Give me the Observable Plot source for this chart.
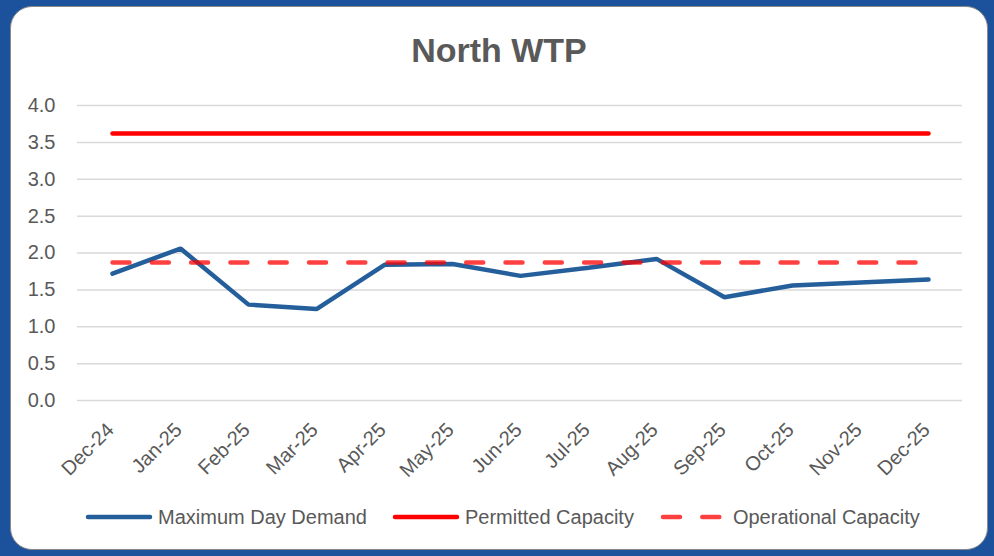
<!DOCTYPE html>
<html>
<head>
<meta charset="utf-8">
<script src="https://cdn.jsdelivr.net/npm/d3@7"></script>
<script src="https://cdn.jsdelivr.net/npm/@observablehq/plot@0.6"></script>
<style>
  html, body { margin: 0; padding: 0; }
  body { width: 994px; height: 556px; background: #1B529B; position: relative; overflow: hidden;
         font-family: "Liberation Sans", Arial, sans-serif; color: #595959; }
  #card { position: absolute; left: 10px; top: 6px; width: 976px; height: 542px; background: #fff;
          border: 1.5px solid #8a8a8a; border-radius: 22px; }
  #title { position: absolute; left: 0; width: 998px; top: 31px; text-align: center;
           font-size: 34px; font-weight: bold; color: #595959; line-height: normal; }
  #chart { position: absolute; left: 0; top: 0; }
  #legend { position: absolute; left: 85px; top: 505px; height: 24px; display: flex; align-items: center;
            font-size: 20px; color: #595959; white-space: nowrap; }
  .item { display: flex; align-items: center; margin-right: 25px; }
  .item svg { margin-right: 5px; }
</style>
</head>
<body>
<div id="card"></div>
<div id="title">North WTP</div>
<div id="chart"></div>
<div id="legend"></div>
<script>
const months = ["Dec-24","Jan-25","Feb-25","Mar-25","Apr-25","May-25","Jun-25","Jul-25","Aug-25","Sep-25","Oct-25","Nov-25","Dec-25"];
const maxDayDemand = [1.72, 2.06, 1.30, 1.24, 1.84, 1.85, 1.69, 1.80, 1.92, 1.40, 1.56, 1.60, 1.64];
const permittedCapacity = [3.62, 3.62, 3.62, 3.62, 3.62, 3.62, 3.62, 3.62, 3.62, 3.62, 3.62, 3.62, 3.62];
const operationalCapacity = [1.87, 1.87, 1.87, 1.87, 1.87, 1.87, 1.87, 1.87, 1.87, 1.87, 1.87, 1.87, 1.87];
const yTicks = [0, 0.5, 1.0, 1.5, 2.0, 2.5, 3.0, 3.5, 4.0];
const seriesNames = ["Maximum Day Demand", "Permitted Capacity", "Operational Capacity"];

const colors = { blue: "#245F9B", red: "#FF0000" };

const rows = (vals) => months.map((m, i) => ({ month: m, value: vals[i] }));

const chart = Plot.plot({
  width: 994,
  height: 480,
  marginLeft: 77,
  marginRight: 32,
  marginTop: 105,
  marginBottom: 80,
  style: { fontFamily: "'Liberation Sans', Arial, sans-serif", fontSize: "20px", color: "#595959", background: "transparent" },
  x: { type: "point", domain: months, padding: 0.5 },
  y: { domain: [0, 4] },
  marks: [
    Plot.gridY(yTicks, { stroke: "#d9d9d9", strokeOpacity: 1, strokeWidth: 1.5 }),
    Plot.axisY(yTicks, { tickSize: 0, tickPadding: 22, tickFormat: d => d.toFixed(1), label: null, fontSize: 20 }),
    Plot.axisX({ tickRotate: -45, tickSize: 0, tickPadding: 26, label: null, fontSize: 20, dx: -2 }),
    Plot.lineY(rows(maxDayDemand), { x: "month", y: "value", stroke: colors.blue, strokeWidth: 4.5, strokeLinejoin: "miter", strokeLinecap: "round" }),
    Plot.lineY(rows(permittedCapacity), { x: "month", y: "value", stroke: colors.red, strokeWidth: 4.5, strokeLinecap: "round" }),
    Plot.lineY(rows(operationalCapacity), { x: "month", y: "value", stroke: colors.red, strokeOpacity: 0.75, strokeWidth: 4.5, strokeDasharray: "17,22.3", strokeLinecap: "round" })
  ]
});
document.getElementById("chart").appendChild(chart);

// legend
const legend = document.getElementById("legend");
const swatches = [
  `<svg width="68" height="10"><line x1="3" y1="5" x2="65" y2="5" stroke="${colors.blue}" stroke-width="4.5" stroke-linecap="round"/></svg>`,
  `<svg width="68" height="10"><line x1="3" y1="5" x2="65" y2="5" stroke="${colors.red}" stroke-width="4.5" stroke-linecap="round"/></svg>`,
  `<svg width="68" height="10"><line x1="3" y1="5" x2="65" y2="5" stroke="${colors.red}" stroke-opacity="0.75" stroke-width="4.5" stroke-linecap="round" stroke-dasharray="17,22.3"/></svg>`
];
const gaps = [25, 26, 0];
seriesNames.forEach((name, i) => {
  const d = document.createElement("div");
  d.className = "item";
  d.style.marginRight = gaps[i] + "px";
  d.innerHTML = swatches[i] + `<span>${name}</span>`;
  legend.appendChild(d);
});
</script>
</body>
</html>
